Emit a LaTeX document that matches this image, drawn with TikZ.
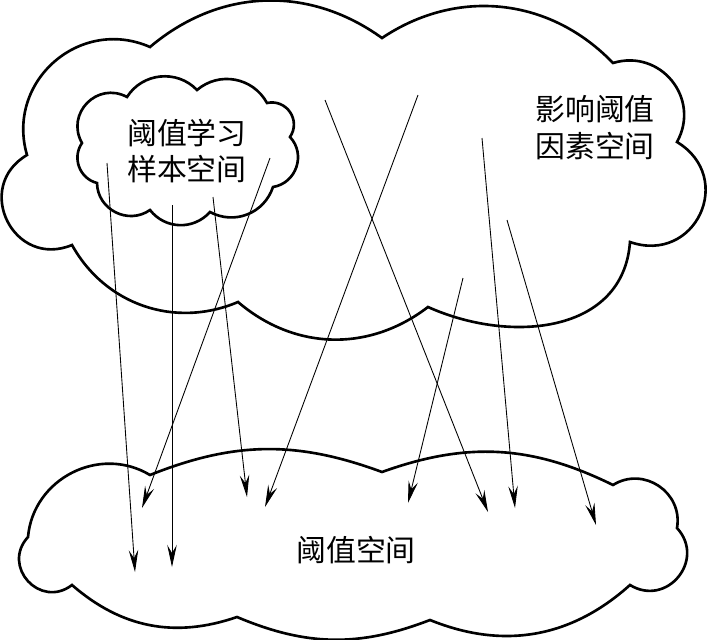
\documentclass[tikz,border=0pt]{standalone}
\usepackage{fontspec}
\newfontfamily\cjk{Noto Sans CJK SC}
\usetikzlibrary{arrows.meta}
\tikzset{
  cloud line/.style={line width=1.5pt},
  flow/.style={line width=0.5pt, -{Stealth[length=4.4mm, width=1.9mm, inset=1.6mm]}},
  space label/.style={font=\cjk\fontsize{17pt}{21pt}\selectfont, align=center, inner sep=0pt},
}

\begin{document}
\begin{tikzpicture}[x=0.2mm, y=-0.2mm]
  \useasboundingbox (0,0) rectangle (709,640);

  % Upper cloud (factor space)
  \draw[cloud line] (150,47) to[bend left=38] (382,38) to[bend left=40] (613,63)
    to[bend left=68, looseness=1.25] (677,142) to[bend left=84, looseness=1.6] (630,242)
    to[relative, out=68, in=138, looseness=1.1] (428,307) to[bend left=39] (238,302)
    to[bend left=42] (72,245) to[bend left=86, looseness=1.6] (27,155)
    to[bend left=65, looseness=1.2] cycle;

  % Small cloud (sample space)
  \draw[cloud line] (127,97) to[bend left=52, looseness=1.05] (197,90)
    to[bend left=51, looseness=1.05] (267,103) to[bend left=68, looseness=1.25] (290,137)
    to[bend left=62, looseness=1.15] (273,187) to[bend left=50, looseness=1.05] (210,212)
    to[bend left=50, looseness=1.05] (150,210) to[bend left=62, looseness=1.15] (97,183)
    to[bend left=55, looseness=1.08] (82,143) to[bend left=74, looseness=1.34] cycle;

  % Lower cloud (threshold space)
  \draw[cloud line] (150,475) to[bend left=21] (382,472) to[bend left=23] (613,485)
    to[bend left=66, looseness=1.2] (677,528) to[bend left=82, looseness=1.5] (630,585)
    to[bend left=32] (430,620) to[bend left=22] (237,617) to[bend left=30] (72,585)
    to[bend left=85, looseness=1.57] (28,537) to[bend left=58, looseness=1.1] cycle;

  % Labels
  \node[space label] (sample) at (187,151) {阈值学习\\样本空间};
  \node[space label] (factor) at (595,128) {影响阈值\\因素空间};
  \node[space label] (thresh) at (356,550) {阈值空间};

  % Start and end points of the mappings
  \coordinate (src1) at (107,163);
  \coordinate (src2) at (172,205);
  \coordinate (src3) at (213,197);
  \coordinate (src4) at (270,158);
  \coordinate (src5) at (325,100);
  \coordinate (src6) at (418,95);
  \coordinate (src7) at (482,138);
  \coordinate (src8) at (507,220);
  \coordinate (src9) at (463,278);
  \coordinate (dst1) at (135,572);
  \coordinate (dst2) at (172,567);
  \coordinate (dst3) at (247,497);
  \coordinate (dst4) at (142,508);
  \coordinate (dst5) at (488,512);
  \coordinate (dst6) at (265,507);
  \coordinate (dst7) at (515,508);
  \coordinate (dst8) at (596,525);
  \coordinate (dst9) at (408,503);

  % Mappings
  \draw[flow] (src1) -- (dst1);
  \draw[flow] (src2) -- (dst2);
  \draw[flow] (src3) -- (dst3);
  \draw[flow] (src4) -- (dst4);
  \draw[flow] (src5) -- (dst5);
  \draw[flow] (src6) -- (dst6);
  \draw[flow] (src7) -- (dst7);
  \draw[flow] (src8) -- (dst8);
  \draw[flow] (src9) -- (dst9);
\end{tikzpicture}
\end{document}
